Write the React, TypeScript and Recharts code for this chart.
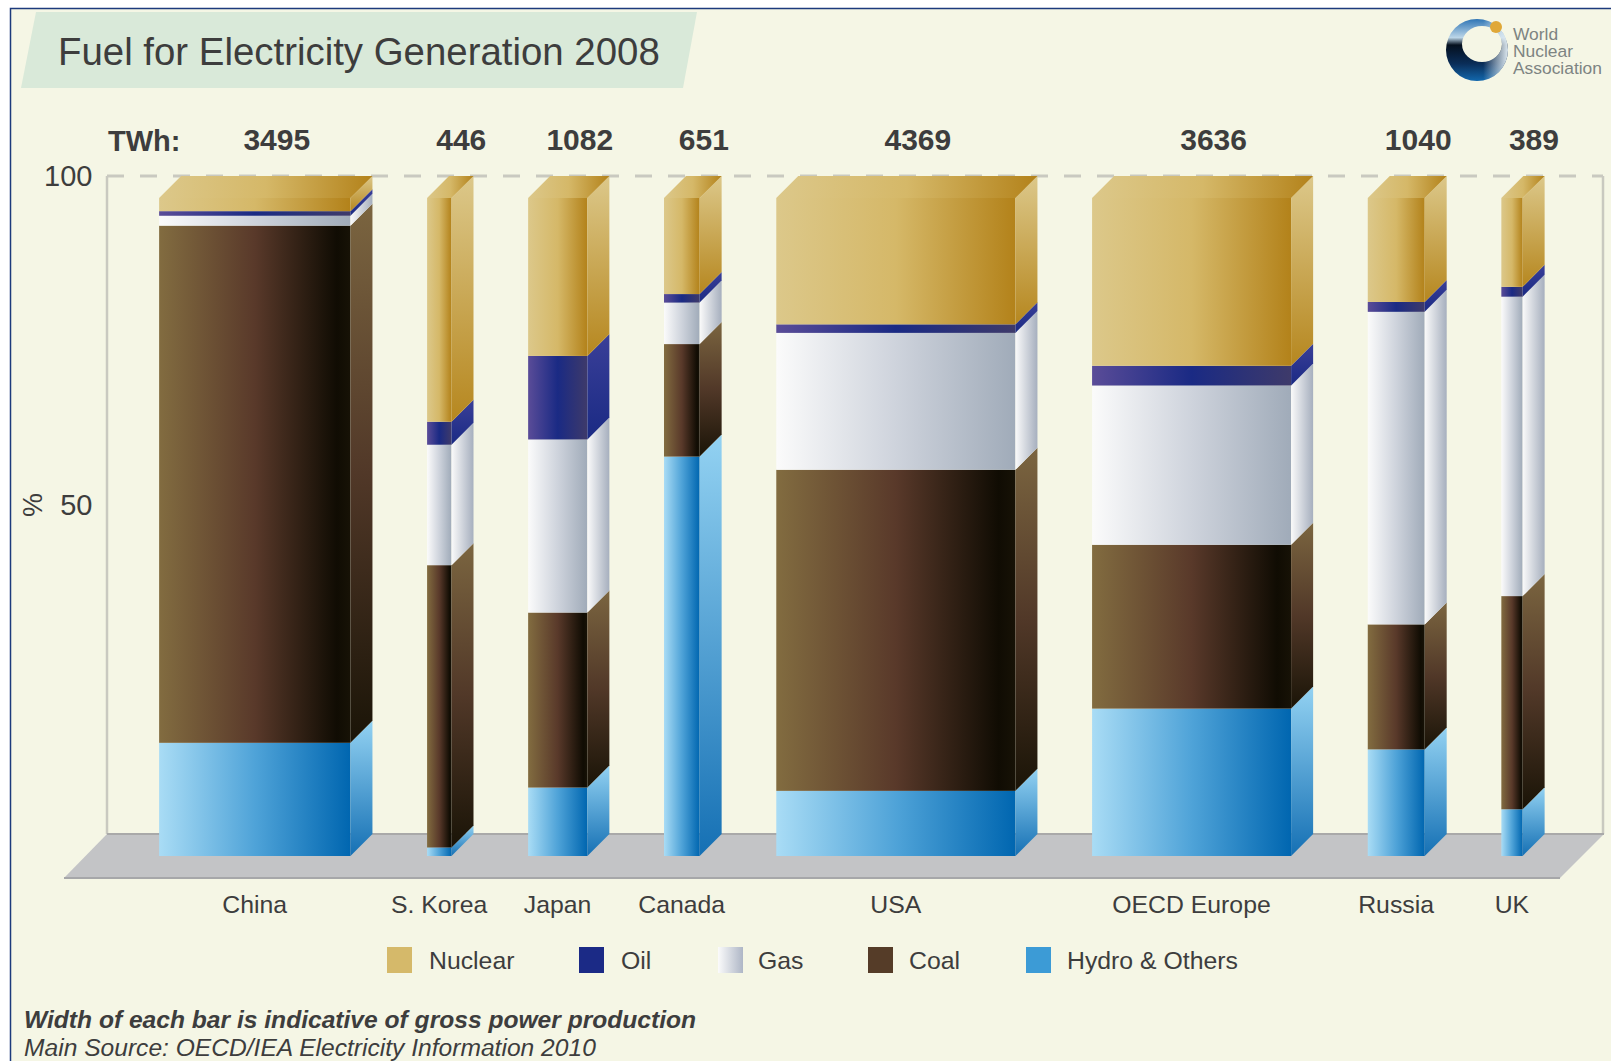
import { BarChart, Bar, XAxis, YAxis, LabelList } from 'recharts'

// Countries in drawing order, with gross production in TWh (sets each bar's width)
const countries = ['China', 'S. Korea', 'Japan', 'Canada', 'USA', 'OECD Europe', 'Russia', 'UK']
const twh = [3495, 446, 1082, 651, 4369, 3636, 1040, 389]

// Fuel shares in percent, bottom of the stack first
const hydro = [17.2, 1.3, 10.4, 60.7, 9.9, 22.4, 16.2, 7.1]
const coal = [78.6, 42.9, 26.6, 17.1, 48.8, 24.9, 19, 32.4]
const gas = [1.5, 18.3, 26.3, 6.3, 20.8, 24.2, 47.5, 45.5]
const oil = [0.7, 3.5, 12.7, 1.3, 1.3, 3, 1.5, 1.5]
const nuclear = [2, 34, 24, 14.6, 19.2, 25.5, 15.8, 13.5]

const legendNames = ['Nuclear', 'Oil', 'Gas', 'Coal', 'Hydro & Others']
const yTicks = [50, 100]

// Empty space between two bars, in the same TWh units as the bar widths
const GAP_TWH = 1400

const centres: number[] = []
twh.reduce((start, value) => {
  centres.push(start + value / 2)
  return start + value + GAP_TWH
}, 0)
const X_MAX = twh.reduce((a, b) => a + b, 0) + GAP_TWH * (twh.length - 1)

const tableData = countries.map((name, i) => ({
  name,
  twh: twh[i],
  centre: centres[i],
  hydro: hydro[i],
  coal: coal[i],
  gas: gas[i],
  oil: oil[i],
  nuclear: nuclear[i],
}))

// Plot box of the front plane and the depth of the 3D extrusion
const PLOT = { left: 159, right: 1522.5, top: 198, bottom: 856 }
const DEPTH = 22
const PX_PER_TWH = (PLOT.right - PLOT.left) / X_MAX

const INK = '#3d3d3d'
const FONT = '"Liberation Sans", Arial, sans-serif'

type Stop = [string, string]
const frontStops: Record<string, Stop[]> = {
  nuclear: [['0', '#dcc88a'], ['0.5', '#d5b868'], ['1', '#b3821a']],
  oil: [['0', '#5a4c98'], ['0.5', '#1a2a84'], ['1', '#3e3a6a']],
  gas: [['0', '#fbfbfb'], ['0.5', '#ced3dc'], ['1', '#a0abb9']],
  coal: [['0', '#826c40'], ['0.5', '#59392a'], ['0.93', '#100c03'], ['1', '#171206']],
  hydro: [['0', '#a9dcf5'], ['0.5', '#4fa3d8'], ['1', '#0066b0']],
}
const sideStops: Record<string, Stop[]> = {
  nuclear: [['0', '#dcc88a'], ['1', '#b6871f']],
  oil: [['0', '#3a3f98'], ['1', '#1a2a84']],
  gas: [['0', '#fafafa'], ['1', '#a6afbe']],
  coal: [['0', '#7b6540'], ['0.5', '#513828'], ['1', '#1a1407']],
  hydro: [['0', '#93d2f2'], ['1', '#1570b4']],
}
const seriesKeys = ['hydro', 'coal', 'gas', 'oil', 'nuclear']
const seriesNames: Record<string, string> = {
  hydro: 'Hydro & Others',
  coal: 'Coal',
  gas: 'Gas',
  oil: 'Oil',
  nuclear: 'Nuclear',
}

// One stack segment: front face, right side face, and the lid on the top segment
const segmentShape = (key: string) => (props: any) => {
  const { x, y, width, height, payload } = props
  const w = payload.twh * PX_PER_TWH
  const left = x + width / 2 - w / 2
  const right = left + w
  const bottom = y + height
  return (
    <g>
      <rect x={left} y={y} width={w} height={height} fill={`url(#front-${key})`} />
      <polygon
        points={`${right},${y} ${right + DEPTH},${y - DEPTH} ${right + DEPTH},${bottom - DEPTH} ${right},${bottom}`}
        fill={`url(#side-${key})`}
      />
      {key === 'nuclear' && (
        <polygon
          points={`${left},${y} ${left + DEPTH},${y - DEPTH} ${right + DEPTH},${y - DEPTH} ${right},${y}`}
          fill="url(#front-nuclear)"
        />
      )}
    </g>
  )
}

const YTick = ({ y, payload }: any) => (
  <text x={92.5} y={y - DEPTH + 10} textAnchor="end" fontSize={29} fill={INK} fontFamily={FONT}>
    {payload.value}
  </text>
)

const TwhLabel = ({ x, y, width, value }: any) => (
  <text
    x={x + width / 2 + DEPTH}
    y={y - 48}
    textAnchor="middle"
    fontSize={30}
    fontWeight="bold"
    fill={INK}
    fontFamily={FONT}
  >
    {value}
  </text>
)

const AxisUnit = () => (
  <text transform="translate(42,505) rotate(-90)" textAnchor="middle" fontSize={27} fill={INK} fontFamily={FONT}>
    %
  </text>
)

const gradient = (id: string, stops: Stop[], vertical: boolean) => (
  <linearGradient key={id} id={id} x1="0" y1="0" x2={vertical ? '0' : '1'} y2={vertical ? '1' : '0'}>
    {stops.map(([offset, color]) => (
      <stop key={offset} offset={offset} stopColor={color} />
    ))}
  </linearGradient>
)

// Frame, title banner, logo, walls, floor, legend and footnotes sit behind the chart
function Backdrop() {
  const legendSwatchX = [387, 579, 718, 868, 1026]
  const legendTextX = [429, 621, 758, 909, 1067]
  const legendFills = ['#d5b96a', '#1b2a86', 'url(#legend-gas)', '#553c28', '#3c9bd6']
  const ringPath =
    'M1446 50 a31 31 0 1 0 62 0 a31 31 0 1 0 -62 0 z M1462 44 a20 18 0 1 0 40 0 a20 18 0 1 0 -40 0 z'
  return (
    <svg width={1611} height={1061} style={{ position: 'absolute', left: 0, top: 0 }} fontFamily={FONT}>
      <defs>
        {gradient('legend-gas', [['0', '#fbfbfb'], ['1', '#aeb6c6']], false)}
        {gradient(
          'logo-ring',
          [['0', '#2f75b5'], ['0.3', '#bcd6e8'], ['0.42', '#05101e'], ['0.72', '#0a2d58'], ['1', '#1268ad']],
          true,
        )}
        <linearGradient id="logo-fade" x1="0" y1="0" x2="1" y2="0">
          <stop offset="0.6" stopColor="#dce8f0" stopOpacity={0} />
          <stop offset="1" stopColor="#dce8f0" stopOpacity={1} />
        </linearGradient>
      </defs>
      <rect x={0} y={0} width={1611} height={1061} fill="#ffffff" />
      <rect x={11} y={9} width={1600} height={1052} fill="#f5f6e5" />
      <path d="M10.5 1061 V8.5 H1611" fill="none" stroke="#1c3a7c" strokeWidth={1.5} />

      <polygon points="36,12 697,12 683,88 21,88" fill="#d9e9d9" />
      <text x={58} y={64.5} fontSize={38.4} fill={INK}>
        Fuel for Electricity Generation 2008
      </text>

      <path d={ringPath} fillRule="evenodd" fill="url(#logo-ring)" />
      <path d={ringPath} fillRule="evenodd" fill="url(#logo-fade)" />
      <circle cx={1496} cy={27} r={6} fill="#e0a838" />
      <g fontSize={17.4} fill="#7d8482">
        <text x={1513} y={40}>World</text>
        <text x={1513} y={57}>Nuclear</text>
        <text x={1513} y={74}>Association</text>
      </g>

      <text x={108} y={151} fontSize={29} fontWeight="bold" fill={INK}>
        TWh:
      </text>

      <line x1={107} y1={176} x2={107} y2={834} stroke="#c9c9c0" strokeWidth={2.5} />
      <line x1={1603} y1={176} x2={1603} y2={834} stroke="#c9c9c0" strokeWidth={2.5} />
      <line x1={107} y1={176} x2={1603} y2={176} stroke="#c9c9c0" strokeWidth={3} strokeDasharray="17 16" />
      <polygon points="107,834 1604,834 1560,878 64,878" fill="#c3c4c6" />
      <line x1={107} y1={834} x2={1604} y2={834} stroke="#a9a9a9" strokeWidth={2} />
      <line x1={64} y1={878} x2={1560} y2={878} stroke="#a6a7a9" strokeWidth={2} />

      {legendNames.map((name, i) => (
        <g key={name}>
          <rect x={legendSwatchX[i]} y={947} width={25} height={26} fill={legendFills[i]} />
          <text x={legendTextX[i]} y={969} fontSize={24.8} fill={INK}>
            {name}
          </text>
        </g>
      ))}

      <text x={24} y={1028} fontSize={24.6} fontWeight="bold" fontStyle="italic" fill={INK}>
        Width of each bar is indicative of gross power production
      </text>
      <text x={24} y={1055.5} fontSize={24.6} fontStyle="italic" fill={INK}>
        Main Source: OECD/IEA Electricity Information 2010
      </text>
    </svg>
  )
}

export default function App() {
  return (
    <div style={{ position: 'absolute', left: 0, top: 0, width: 1611, height: 1061, overflow: 'hidden' }}>
      <Backdrop />
      <div style={{ position: 'absolute', left: 0, top: 0 }}>
        <BarChart
          width={1611}
          height={1061}
          data={tableData}
          barSize={10}
          margin={{ top: PLOT.top, right: 1611 - PLOT.right, bottom: 125, left: 99 }}
        >
          <defs>
            {seriesKeys.map((key) => gradient(`front-${key}`, frontStops[key], false))}
            {seriesKeys.map((key) => gradient(`side-${key}`, sideStops[key], key !== 'gas'))}
          </defs>
          <XAxis
            dataKey="centre"
            type="number"
            scale="linear"
            domain={[0, X_MAX]}
            ticks={centres}
            interval={0}
            height={80}
            axisLine={false}
            tickLine={false}
            tickMargin={33}
            tick={{ fontSize: 24.8, fill: INK, fontFamily: FONT }}
            tickFormatter={(value: number) => countries[centres.indexOf(value)]}
          />
          <YAxis
            type="number"
            domain={[0, 100]}
            ticks={yTicks}
            width={60}
            axisLine={false}
            tickLine={false}
            tick={<YTick />}
            label={{ content: <AxisUnit /> }}
          />
          {seriesKeys.map((key) => (
            <Bar
              key={key}
              dataKey={key}
              name={seriesNames[key]}
              stackId="fuel"
              isAnimationActive={false}
              shape={segmentShape(key)}
            >
              {key === 'nuclear' && <LabelList dataKey="twh" content={<TwhLabel />} />}
            </Bar>
          ))}
        </BarChart>
      </div>
    </div>
  )
}
